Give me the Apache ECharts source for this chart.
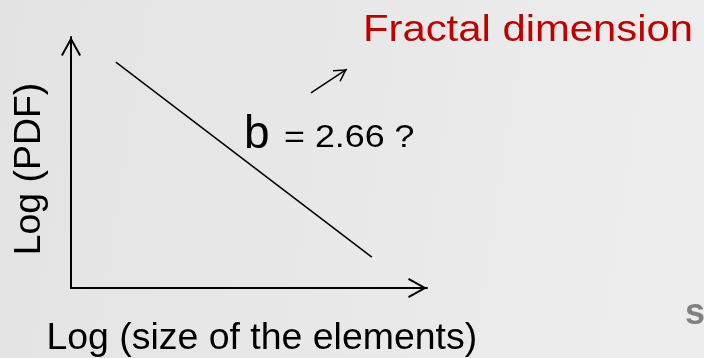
<!DOCTYPE html>
<html>
<head>
<meta charset="utf-8">
<script src="https://cdn.jsdelivr.net/npm/echarts@6/dist/echarts.min.js"></script>
<style>
  html, body { margin: 0; padding: 0; background: #e8e8e8; }
  #chart { width: 704px; height: 358px; }
</style>
</head>
<body>
<div id="chart"></div>
<script>
// Log-log size distribution sketch: a straight power-law fit line.
const xRange = [0, 10];
const yRange = [0, 10];
const fitLogSize = [1.26, 8.45];
const fitLogPdf = [9.0, 1.23];
const pointerFrom = [6.74, 7.77];
const pointerTo = [7.75, 8.72];

const titleText = 'Fractal dimension';
const slopeSymbol = 'b';
const slopeText = '= 2.66 ?';
const xName = 'Log (size of the elements)';
const yName = 'Log (PDF)';
const cornerText = 's';

const FONT = '"Liberation Sans", Arial, Helvetica, sans-serif';

// Open chevron heads (filled thin V shapes pointing up)
const axisHead = 'path://M10,0L20,18L18.25,18.97L10,4.1L1.75,18.97L0,18Z';
// tip sits at the centre of the bounding box thanks to the empty sub-path on top
const pointerHead = 'path://M7,-0.76L7,-0.75Z M7,12L14,24L12.7,24.76L7,15L1.3,24.76L0,24Z';

const chart = echarts.init(document.getElementById('chart'), null, { renderer: 'canvas' });

const axisCommon = {
  type: 'value',
  axisTick: { show: false },
  axisLabel: { show: false },
  splitLine: { show: false },
  axisLine: {
    show: true,
    onZero: false,
    symbol: ['none', axisHead],
    symbolSize: [20, 19],
    symbolOffset: [0, -9.5],
    lineStyle: { color: '#000', width: 2 }
  }
};

chart.setOption({
  backgroundColor: {
    type: 'linear', x: 0, y: 0, x2: 1, y2: 0.3,
    colorStops: [
      { offset: 0, color: '#e3e3e3' },
      { offset: 0.5, color: '#e8e8e8' },
      { offset: 1, color: '#ededed' }
    ]
  },
  animation: false,
  grid: { left: 71, right: 277, top: 37, bottom: 70, outerBoundsMode: 'none' },
  xAxis: Object.assign({}, axisCommon, { min: xRange[0], max: xRange[1] }),
  yAxis: Object.assign({}, axisCommon, { min: yRange[0], max: yRange[1] }),
  series: [{
    type: 'line',
    data: fitLogSize.map((x, i) => [x, fitLogPdf[i]]),
    showSymbol: false,
    lineStyle: { color: '#000', width: 1.5 },
    silent: true,
    markLine: {
      silent: true,
      symbol: ['none', pointerHead],
      symbolSize: [14, 25.52],
      label: { show: false },
      lineStyle: { color: '#000', width: 1.5, type: 'solid' },
      data: [[{ coord: pointerFrom }, { coord: pointerTo }]]
    }
  }],
  graphic: [
    {
      type: 'text', x: 363, y: 30.5, scaleX: 1.13,
      style: { text: titleText, font: '37px ' + FONT, fill: '#c00000', textAlign: 'left', textVerticalAlign: 'middle' }
    },
    {
      type: 'text', x: 244, y: 135,
      style: { text: slopeSymbol, font: '46px ' + FONT, fill: '#000', textAlign: 'left', textVerticalAlign: 'middle' }
    },
    {
      type: 'text', x: 284, y: 138.5, scaleX: 1.12,
      style: { text: slopeText, font: '32px ' + FONT, fill: '#000', textAlign: 'left', textVerticalAlign: 'middle' }
    },
    {
      type: 'text', x: 46.4, y: 339, scaleX: 1.04,
      style: { text: xName, font: '36px ' + FONT, fill: '#000', textAlign: 'left', textVerticalAlign: 'middle' }
    },
    {
      type: 'text', x: 30, y: 169, rotation: Math.PI / 2, scaleX: 1.04,
      style: { text: yName, font: '36px ' + FONT, fill: '#000', textAlign: 'center', textVerticalAlign: 'middle' }
    },
    {
      type: 'text', x: 685, y: 314.5,
      style: { text: cornerText, font: 'bold 36px ' + FONT, fill: '#808080', textAlign: 'left', textVerticalAlign: 'middle' }
    }
  ]
});
</script>
</body>
</html>
